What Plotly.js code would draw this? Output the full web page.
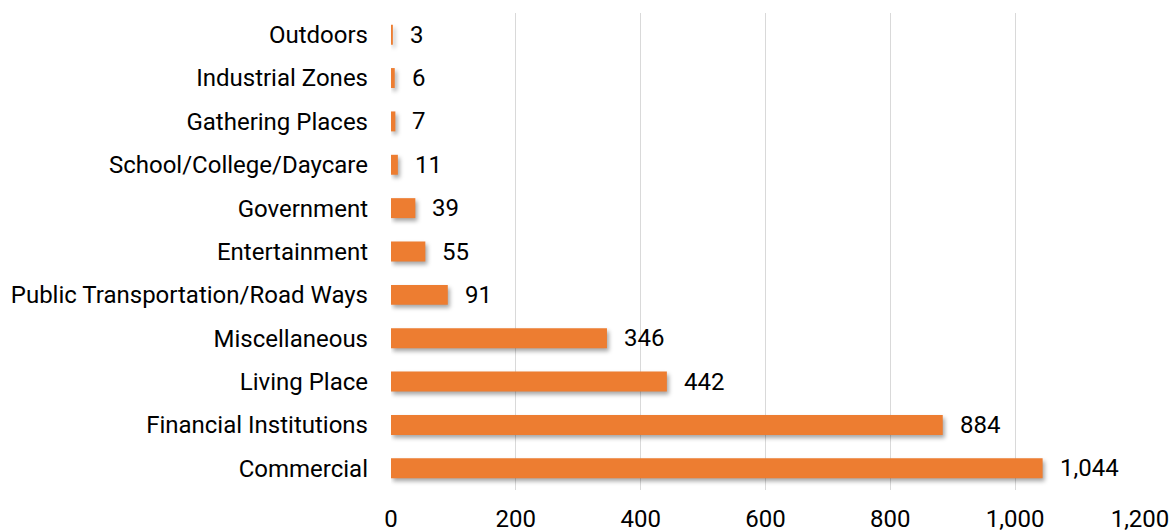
<!DOCTYPE html>
<html><head><meta charset="utf-8">
<script src="https://cdn.plot.ly/plotly-3.0.1.min.js"></script>
<style>
body{margin:0;background:#fff;}
#chart .bars .point path{filter:drop-shadow(2px 3px 2px rgba(0,0,0,0.35));}
</style>
</head><body>
<div id="chart" style="width:1173px;height:531px;"></div>
<script>
const categories = ["Commercial","Financial Institutions","Living Place","Miscellaneous","Public Transportation/Road Ways","Entertainment","Government","School/College/Daycare","Gathering Places","Industrial Zones","Outdoors"];
const counts = [1044,884,442,346,91,55,39,11,7,6,3];
const xTicks = [0,200,400,600,800,1000,1200];

const FONT = "Roboto, 'Liberation Sans', sans-serif";
const FS = 24;
const annotations = categories.map((c,i)=>({
  x: counts[i], y: c, xref:'x', yref:'y',
  text: counts[i].toLocaleString('en-US'),
  showarrow:false, xanchor:'left', xshift:15,
  font:{family:FONT,size:FS,color:'#000'}
}));

Plotly.newPlot('chart',[{
  type:'bar', orientation:'h',
  x: counts, y: categories,
  marker:{color:'#ED7D31'},
  hoverinfo:'none'
}],{
  width:1173,height:531,
  margin:{l:391,r:33,t:13,b:41},
  bargap:0.54,
  paper_bgcolor:'#fff',plot_bgcolor:'#fff',
  font:{family:FONT,size:FS,color:'#000'},
  showlegend:false,
  xaxis:{range:[0,1200],tickvals:xTicks,tickformat:',',showgrid:true,gridcolor:'#d9d9d9',gridwidth:1,
    zeroline:false,showline:false,ticks:'',ticklabelstandoff:12,tickfont:{size:FS},automargin:false},
  yaxis:{type:'category',categoryorder:'array',categoryarray:categories,showgrid:false,zeroline:false,
    showline:false,ticks:'',ticklabelstandoff:22,tickfont:{size:FS},automargin:false},
  annotations:annotations
},{displayModeBar:false,staticPlot:true});
</script>
</body></html>
